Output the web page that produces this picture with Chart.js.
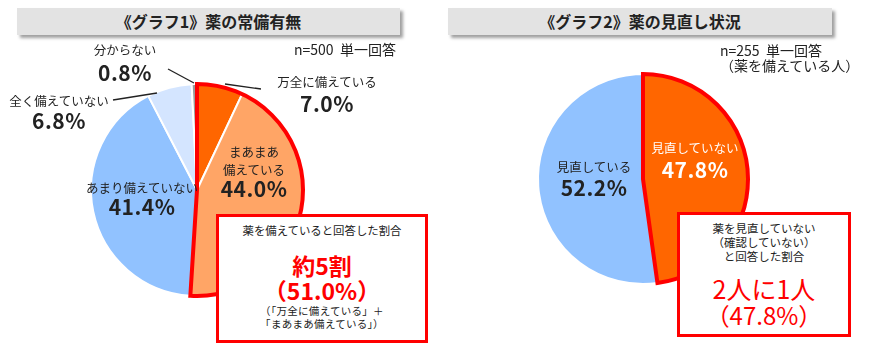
<!DOCTYPE html>
<html lang="ja">
<head>
<meta charset="utf-8">
<script src="https://cdn.jsdelivr.net/npm/chart.js@4"></script>
<style>
  body { margin: 0; background: #fff; font-family: "Noto Sans CJK JP", "Noto Sans", sans-serif; color: #222; }
  #wrap { position: relative; width: 875px; height: 352px; overflow: hidden; }
  .title { position: absolute; top: 8px; height: 27px; background: #e3e3e3; box-shadow: 3px 3px 3px #a0a0a0;
           font-weight: bold; font-size: 16px; line-height: 27px; text-align: center; color: #222; }
  .pie { position: absolute; width: 240px; height: 240px; }
  .t { position: absolute; white-space: nowrap; transform: translate(-50%, -50%); line-height: 1; }
  .s { font-size: 12.5px; }
  .p { font-size: 21px; font-weight: bold; letter-spacing: 0.5px; }
  .note { position: absolute; font-size: 14px; white-space: nowrap; line-height: 1.05; }
  .box { position: absolute; background: #fff; border: 3px solid #ff0000; box-sizing: border-box; text-align: center; }
  .red { color: #ff0000; }
  svg { position: absolute; left: 0; top: 0; }
</style>
</head>
<body>
<div id="wrap">
  <div class="title" style="left:17px;width:383px;">《グラフ1》薬の常備有無</div>
  <div class="title" style="left:448px;width:384px;">《グラフ2》薬の見直し状況</div>

  <div class="pie" style="left:77px;top:70px;"><canvas id="pie1" width="240" height="240"></canvas></div>
  <div class="pie" style="left:523px;top:59px;"><canvas id="pie2" width="240" height="240"></canvas></div>

  <svg width="875" height="352">
    <line x1="168" y1="69" x2="194" y2="83" stroke="#222" stroke-width="1.3"/>
    <line x1="225" y1="84" x2="261" y2="89" stroke="#222" stroke-width="1.3"/>
    <line x1="113" y1="100" x2="157" y2="93" stroke="#222" stroke-width="1.3"/>
  </svg>

  <div class="note" style="left:294px;top:42px;">n=500&nbsp;&nbsp;単一回答</div>
  <div class="note" style="left:720px;top:43px;">n=255&nbsp;&nbsp;単一回答<br>（薬を備えている人）</div>

  <div id="labels"></div>

  <div class="box" style="left:216px;top:214px;width:212px;height:129px;">
    <div style="font-size:11.4px;margin-top:5px;">薬を備えていると回答した割合</div>
    <div class="red" style="font-size:23px;font-weight:bold;margin-top:15px;line-height:1.1;">約5割</div>
    <div class="red" style="font-size:23px;font-weight:bold;line-height:1.1;" id="pct1"></div>
    <div style="font-size:10.5px;line-height:1.25;letter-spacing:0.3px;">（「万全に備えている」＋<br>「まあまあ備えている」）</div>
  </div>

  <div class="box" style="left:677px;top:212px;width:174px;height:125px;">
    <div style="font-size:11.5px;line-height:1.2;margin-top:7px;">薬を見直していない<br>（確認していない）<br>と回答した割合</div>
    <div class="red" style="font-size:25px;margin-top:12px;line-height:1.05;">2人に1人</div>
    <div class="red" style="font-size:24px;line-height:1.05;" id="pct2"></div>
  </div>
</div>

<script>
// グラフ1
const labels1 = ["万全に備えている", "まあまあ備えている", "あまり備えていない", "全く備えていない", "分からない"];
const values1 = [7.0, 44.0, 41.4, 6.8, 0.8];
const colors1 = ["#ff6600", "#ffa566", "#91c2ff", "#d4e5ff", "#9a9a9a"];

// グラフ2
const labels2 = ["見直していない", "見直している"];
const values2 = [47.8, 52.2];
const colors2 = ["#ff6600", "#91c2ff"];

// label text lines and where they go (name line, percent line)
const labelLayout = [
  { text: ["万全に備えている"], value: values1[0], x: 327, y: 82, py: 103, cls: "" },
  { text: ["まあまあ", "備えている"], value: values1[1], x: 254, y: 152, py: 188, cls: "" },
  { text: ["あまり備えていない"], value: values1[2], x: 142, y: 188, py: 206, cls: "" },
  { text: ["全く備えていない"], value: values1[3], x: 59, y: 101, py: 120, cls: "" },
  { text: ["分からない"], value: values1[4], x: 125, y: 50, py: 72, cls: "" },
  { text: ["見直していない"], value: values2[0], x: 695, y: 148, py: 169, cls: "white" },
  { text: ["見直している"], value: values2[1], x: 594, y: 167, py: 187, cls: "" }
];

const fmt = v => v.toFixed(1) + "%";

const labelsDiv = document.getElementById("labels");
labelLayout.forEach(l => {
  const color = l.cls === "white" ? "#fff" : "#222";
  l.text.forEach((line, i) => {
    const d = document.createElement("div");
    d.className = "t s";
    d.style.left = l.x + "px";
    d.style.top = (l.y + i * 18) + "px";
    d.style.color = color;
    d.textContent = line;
    labelsDiv.appendChild(d);
  });
  const p = document.createElement("div");
  p.className = "t p";
  p.style.left = l.x + "px";
  p.style.top = l.py + "px";
  p.style.color = color;
  p.textContent = fmt(l.value);
  labelsDiv.appendChild(p);
});

document.getElementById("pct1").textContent = "（" + fmt(values1[0] + values1[1]) + "）";
document.getElementById("pct2").textContent = "（" + fmt(values2[0]) + "）";

// red outline round the first n slices
const outlinePlugin = {
  id: "outline",
  afterDatasetsDraw(chart, args, opts) {
    const arcs = chart.getDatasetMeta(0).data;
    const first = arcs[0];
    const last = arcs[opts.count - 1];
    const ctx = chart.ctx;
    ctx.save();
    ctx.beginPath();
    ctx.moveTo(first.x, first.y);
    ctx.arc(first.x, first.y, first.outerRadius, first.startAngle, last.endAngle);
    ctx.closePath();
    ctx.lineWidth = 4;
    ctx.lineJoin = "miter";
    ctx.strokeStyle = "#ff0000";
    ctx.stroke();
    ctx.restore();
  }
};

function makePie(id, labels, values, colors, radius, count) {
  return new Chart(document.getElementById(id), {
    type: "pie",
    data: {
      labels: labels,
      datasets: [{
        data: values,
        backgroundColor: colors,
        borderColor: "#fff",
        borderWidth: 2,
        radius: radius
      }]
    },
    options: {
      responsive: false,
      animation: false,
      events: [],
      plugins: {
        legend: { display: false },
        tooltip: { enabled: false },
        outline: { count: count }
      }
    },
    plugins: [outlinePlugin]
  });
}

makePie("pie1", labels1, values1, colors1, 106, 2);
makePie("pie2", labels2, values2, colors2, 105, 1);
</script>
</body>
</html>
